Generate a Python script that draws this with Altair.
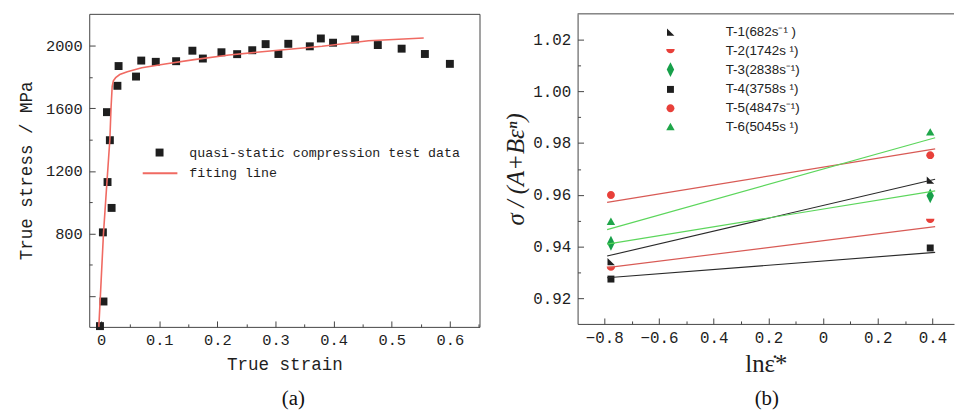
import altair as alt
import pandas as pd

# ---------------- Panel (a) data ----------------
strain_pts = [-0.002, 0.004, 0.003, 0.018, 0.011, 0.015, 0.010, 0.028, 0.030, 0.060,
              0.069, 0.094, 0.129, 0.157, 0.175, 0.207, 0.234, 0.260, 0.283, 0.305,
              0.322, 0.359, 0.378, 0.399, 0.437, 0.476, 0.517, 0.557, 0.600]
stress_pts = [210, 367, 808, 964, 1129, 1396, 1575, 1743, 1869, 1802,
              1904, 1896, 1900, 1967, 1917, 1957, 1945, 1970, 2009, 1946,
              2011, 1995, 2045, 2018, 2039, 2003, 1980, 1946, 1883]
strain_fit = [-0.004, 0.0, 0.004, 0.010, 0.015, 0.017, 0.019, 0.021, 0.025, 0.032,
              0.045, 0.07, 0.11, 0.16, 0.22, 0.30, 0.38, 0.46, 0.555]
stress_fit = [205, 500, 800, 1130, 1400, 1600, 1740, 1775, 1795, 1815,
              1833, 1858, 1882, 1910, 1940, 1968, 1995, 2030, 2048]
legend_a = ["quasi-static compression test data", "fiting line"]
xticks_a = [0, 0.1, 0.2, 0.3, 0.4, 0.5, 0.6]
yticks_a = [800, 1200, 1600, 2000]
xminor_a = [0, 0.05, 0.1, 0.15, 0.2, 0.25, 0.3, 0.35, 0.4, 0.45, 0.5, 0.55, 0.6, 0.65]
yminor_a = [400, 600, 800, 1000, 1200, 1400, 1600, 1800, 2000]

# ---------------- Panel (b) data ----------------
series = ["T-1(682s\u207b\u00b9  )", "T-2(1742s \u00b9)", "T-3(2838s\u207b\u00b9)",
          "T-4(3758s \u00b9)", "T-5(4847s\u207b\u00b9)", "T-6(5045s \u00b9)"]
pt_x = [-0.776, 0.392]
pt_y_left = [0.9343, 0.9317, 0.9413, 0.9275, 0.9599, 0.9496]
pt_y_right = [0.9657, 0.9501, 0.9596, 0.9395, 0.9753, 0.9841]
line_x = [-0.79, 0.41]
line_y_left = [0.9364, 0.9319, 0.9410, 0.9280, 0.9571, 0.9466]
line_y_right = [0.9660, 0.9477, 0.9615, 0.9378, 0.9777, 0.9820]
xticks_b = [-0.8, -0.6, -0.4, -0.2, 0, 0.2, 0.4]
yticks_b = [0.92, 0.94, 0.96, 0.98, 1.00, 1.02]
xminor_b = [-0.9, -0.8, -0.7, -0.6, -0.5, -0.4, -0.3, -0.2, -0.1, 0, 0.1, 0.2, 0.3, 0.4]
yminor_b = [0.92, 0.93, 0.94, 0.95, 0.96, 0.97, 0.98, 0.99, 1.00, 1.01, 1.02]

# styles
MONO = "Liberation Mono"
SERIF = "Liberation Serif"
SANS = "Liberation Sans"
DARK = "#1e1e1e"
FRAME = "#444444"
RED_FIT = "#f06a62"
pt_colors = ["#1e1e1e", "#e8403a", "#17a04a", "#1e1e1e", "#e8403a", "#1fa64a"]
line_colors = ["#2a2a2a", "#d85a55", "#5cd65c", "#2a2a2a", "#d85a55", "#5cd65c"]
shape_paths = [
    "M-0.7,-0.7L0.8,0.75L-0.7,0.75Z",
    "M-0.85,-0.35A0.85,0.85 0 0 0 0.85,-0.35Z",
    "M0,-1.5L0.75,0L0,1.5L-0.75,0Z",
    "M-0.7,-0.7L0.7,-0.7L0.7,0.7L-0.7,0.7Z",
    "M-0.8,0A0.8,0.8 0 1 0 0.8,0A0.8,0.8 0 1 0 -0.8,0Z",
    "M0,-0.85L0.85,0.65L-0.85,0.65Z",
]

W1, H1 = 394, 316
W2, H2 = 380, 313

one = pd.DataFrame({"k": [0]})

# ---------------- Panel (a) ----------------
pts_a = pd.DataFrame({"strain": strain_pts, "stress": stress_pts})
fit_a = pd.DataFrame({"strain": strain_fit, "stress": stress_fit})
xs_a = alt.Scale(domain=[-0.0205, 0.651], nice=False, zero=False)
ys_a = alt.Scale(domain=[205, 2202], nice=False, zero=False)

major_x_a = "abs(datum.value*10 - round(datum.value*10)) < 0.001"
major_y_a = "datum.value % 400 == 0"

points_a = alt.Chart(pts_a).mark_square(size=64, color=DARK, opacity=1).encode(
    x=alt.X("strain:Q", scale=xs_a, axis=alt.Axis(
        orient="bottom", values=xticks_a, ticks=False, tickSize=0, domain=False, grid=False,
        labelExpr="datum.value == 0 ? '0' : format(datum.value, '.1f')",
        labelFont=MONO, labelFontSize=15.5, labelColor=DARK, labelPadding=6,
        title="True strain", titleFont=MONO, titleFontSize=17.7, titleFontWeight="normal",
        titleColor=DARK, titlePadding=8)),
    y=alt.Y("stress:Q", scale=ys_a, axis=alt.Axis(
        orient="left", values=yticks_a, ticks=False, tickSize=0, domain=False, grid=False,
        format="d", labelFont=MONO, labelFontSize=15.5, labelColor=DARK, labelPadding=7,
        title="True stress / MPa", titleFont=MONO, titleFontSize=17.7, titleFontWeight="normal",
        titleColor=DARK, titlePadding=10)),
)
line_a = alt.Chart(fit_a).mark_line(color=RED_FIT, strokeWidth=1.6).encode(
    x=alt.X("strain:Q", scale=xs_a, axis=alt.Axis(
        orient="top", offset=-H1, values=xminor_a, labels=False, domain=False, grid=False,
        tickColor=FRAME, tickWidth=1,
        tickSize={"condition": {"test": major_x_a, "value": 6}, "value": 3}, title=None)),
    y=alt.Y("stress:Q", scale=ys_a, axis=alt.Axis(
        orient="right", offset=-W1, values=yminor_a, labels=False, domain=False, grid=False,
        tickColor=FRAME, tickWidth=1,
        tickSize={"condition": {"test": major_y_a, "value": 6}, "value": 3}, title=None)),
)
leg_sq = alt.Chart(one).mark_square(size=64, color=DARK, opacity=1).encode(
    x=alt.value(71), y=alt.value(140))
leg_ln = alt.Chart(one).mark_rule(color=RED_FIT, strokeWidth=2).encode(
    x=alt.value(54), x2=alt.value(89), y=alt.value(161))
leg_t1 = alt.Chart(one).mark_text(align="left", baseline="middle", font=MONO, fontSize=13.4,
                                  color=DARK).encode(
    x=alt.value(101), y=alt.value(140), text=alt.value(legend_a[0]))
leg_t2 = alt.Chart(one).mark_text(align="left", baseline="middle", font=MONO, fontSize=13.4,
                                  color=DARK).encode(
    x=alt.value(101), y=alt.value(161), text=alt.value(legend_a[1]))
cap_a = alt.Chart(one).mark_text(align="center", baseline="middle", font=SERIF, fontSize=21,
                                 color="#111").encode(
    x=alt.value(206), y=alt.value(389), text=alt.value("(a)"))

panel_a = alt.layer(points_a, line_a, leg_sq, leg_ln, leg_t1, leg_t2, cap_a).resolve_axis(
    x="independent", y="independent").properties(
    width=W1, height=H1, view=alt.ViewBackground(stroke=FRAME, strokeWidth=1))

# ---------------- Panel (b) ----------------
pts_b = pd.DataFrame({
    "series": series + series,
    "x": [pt_x[0]] * 6 + [pt_x[1]] * 6,
    "y": pt_y_left + pt_y_right,
})
lines_b = pd.DataFrame({
    "series": series + series,
    "x": [line_x[0]] * 6 + [line_x[1]] * 6,
    "y": line_y_left + line_y_right,
})
xs_b = alt.Scale(domain=[-0.898, 0.479], nice=False, zero=False)
ys_b = alt.Scale(domain=[0.9102, 1.0298], nice=False, zero=False)

leg_b = alt.Legend(orient="none", legendX=87, legendY=11.5, title=None, labelFont=SANS,
                   labelFontSize=13.5, labelColor="#222", labelOffset=49, rowPadding=4,
                   symbolSize=100, padding=0, labelLimit=300)

points_b = alt.Chart(pts_b).mark_point(filled=True, size=100, opacity=1).encode(
    x=alt.X("x:Q", scale=xs_b, axis=alt.Axis(
        orient="bottom", values=xticks_b, ticks=False, tickSize=0, domain=True,
        domainColor=FRAME, grid=False,
        labelExpr="datum.value < -0.5 ? format(datum.value, '.1f') : (datum.value == 0 ? '0' : format(abs(datum.value), '.1f'))",
        labelFont=MONO, labelFontSize=16, labelColor=DARK, labelPadding=6,
        title="ln\u03b5\u0307*", titleFont="Liberation Serif, DejaVu Serif", titleFontSize=25,
        titleFontWeight="normal", titleColor=DARK, titlePadding=6)),
    y=alt.Y("y:Q", scale=ys_b, axis=alt.Axis(
        orient="left", values=yticks_b, ticks=False, tickSize=0, domain=True,
        domainColor=FRAME, grid=False, format=".2f",
        labelFont=MONO, labelFontSize=16, labelColor=DARK, labelPadding=7,
        title="\u03c3 / (A+B\u03b5\u207f)", titleFont=SERIF, titleFontStyle="italic",
        titleFontSize=25, titleFontWeight="normal", titleColor=DARK, titlePadding=4)),
    shape=alt.Shape("series:N", scale=alt.Scale(domain=series, range=shape_paths), legend=leg_b),
    color=alt.Color("series:N", scale=alt.Scale(domain=series, range=pt_colors), legend=leg_b),
)
lin_b = alt.Chart(lines_b).mark_line(strokeWidth=1.2).encode(
    x=alt.X("x:Q", scale=xs_b, axis=alt.Axis(
        orient="top", offset=-H2, values=xminor_b, labels=False, domain=False, grid=False,
        tickColor=FRAME, tickWidth=1,
        tickSize={"condition": {"test": "abs(datum.value*5 - round(datum.value*5)) < 0.001",
                                "value": 6}, "value": 3}, title=None)),
    y=alt.Y("y:Q", scale=ys_b, axis=alt.Axis(
        orient="right", offset=-W2, values=yminor_b, labels=False, domain=False, grid=False,
        tickColor=FRAME, tickWidth=1,
        tickSize={"condition": {"test": "abs(datum.value*50 - round(datum.value*50)) < 0.001",
                                "value": 6}, "value": 3}, title=None)),
    stroke=alt.Stroke("series:N", scale=alt.Scale(domain=series, range=line_colors), legend=None),
    detail="series:N",
)
top_b = alt.Chart(one).mark_rule(color=FRAME, strokeWidth=1).encode(
    x=alt.value(0), x2=alt.value(W2), y=alt.value(0))
cap_b = alt.Chart(one).mark_text(align="center", baseline="middle", font=SERIF, fontSize=21,
                                 color="#111").encode(
    x=alt.value(191), y=alt.value(389), text=alt.value("(b)"))

panel_b = alt.layer(points_b, lin_b, top_b, cap_b).resolve_axis(
    x="independent", y="independent").resolve_scale(stroke="independent").properties(
    width=W2, height=H2, view=alt.ViewBackground(stroke="transparent"))

chart = alt.hconcat(panel_a, panel_b, spacing=99, bounds="flush").resolve_legend(
    color="independent", shape="independent", stroke="independent").configure(
    padding={"left": 9, "top": 3, "right": 0, "bottom": 0}, background="white"
).configure_legend(labelOffset=49, rowPadding=4, labelFontSize=13.5, labelFont=SANS,
                   symbolSize=100, padding=0, labelLimit=300)

chart.save("out.html", embed_options={"renderer": "svg", "actions": False})
